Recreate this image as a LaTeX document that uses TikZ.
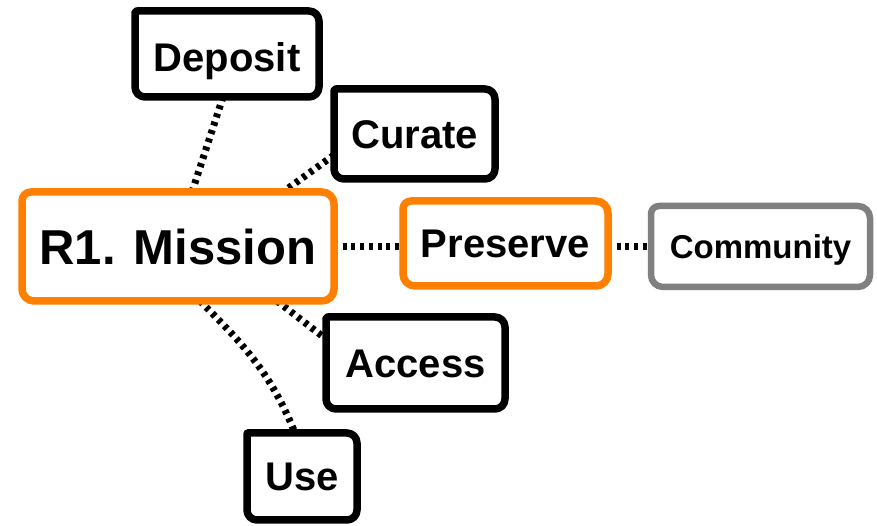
\documentclass[tikz,border=0pt]{standalone}
\usepackage{fontspec}
\setmainfont{Liberation Sans}
\usetikzlibrary{calc}
\pgfdeclarelayer{bg}
\pgfsetlayers{bg,main}
\definecolor{orng}{HTML}{FF8000}
\definecolor{grayb}{HTML}{808080}
\newcommand\frm[4]{\draw[line width=7.5pt,line join=round,#2] ([yshift=-#3pt]#1.north west) arc[start angle=180,end angle=90,radius=#3pt] -- ([xshift=-#4pt]#1.north east) arc[start angle=90,end angle=0,radius=#4pt] -- ([yshift=#4pt]#1.south east) arc[start angle=0,end angle=-90,radius=#4pt] -- ([xshift=#4pt]#1.south west) arc[start angle=270,end angle=180,radius=#4pt] -- cycle;}
\begin{document}
\begin{tikzpicture}[x=1pt,y=1pt,
  box/.style={fill=white, draw=none, inner sep=0pt, outer sep=0pt, text height=28.6pt, text depth=0pt, font=\bfseries\fontsize{40}{48}\selectfont},
  link/.style={line width=7pt, dash pattern=on 4pt off 4.7pt, black}]
\useasboundingbox (0,0) rectangle (877,526);
\node[box, minimum width=184pt, minimum height=86pt, text height=35.6pt] (dep) at (227,472) {Deposit};
\node[box, minimum width=161pt, minimum height=90pt] (cur) at (414.5,392) {Curate};
\node[box, minimum width=312pt, minimum height=109pt, text height=35.1pt, font=\bfseries\fontsize{49}{58}\selectfont] (mis) at (178,279.5) {R1. Mission};
\node[box, minimum width=205pt, minimum height=85pt] (pre) at (505.5,282.5) {Preserve};
\node[box, minimum width=219pt, minimum height=81pt, text height=23.6pt, font=\bfseries\fontsize{33}{40}\selectfont] (com) at (760.5,279.5) {Community};
\node[box, minimum width=179pt, minimum height=92pt] (acc) at (415.5,163) {Access};
\node[box, minimum width=110pt, minimum height=87pt] (use) at (302,49.5) {Use};
\begin{pgfonlayer}{bg}
\fill[white] (0,0) rectangle (877,526);
\draw[link] ([xshift=-4pt]dep.south) -- ([xshift=14pt]mis.north);
\draw[link] ([yshift=-21pt]cur.west) -- ([xshift=105pt]mis.north);
\draw[link] (mis.east) -- (mis.east -| pre.west);
\draw[link] (com.west -| pre.east) -- (com.west);
\draw[link] ([xshift=99pt]mis.south) -- ([yshift=24pt]acc.west);
\draw[link] ([xshift=22pt]mis.south) to[out=-45,in=112] ([xshift=-7pt]use.north);
\end{pgfonlayer}
\frm{dep}{draw=black}{2}{10}
\frm{cur}{draw=black}{2}{10}
\frm{acc}{draw=black}{2}{10}
\frm{use}{draw=black}{0.5}{10}
\frm{mis}{draw=orng}{9}{12}
\frm{pre}{draw=orng}{8}{12}
\frm{com}{draw=grayb,line width=6.5pt}{8}{12}
\end{tikzpicture}
\end{document}
